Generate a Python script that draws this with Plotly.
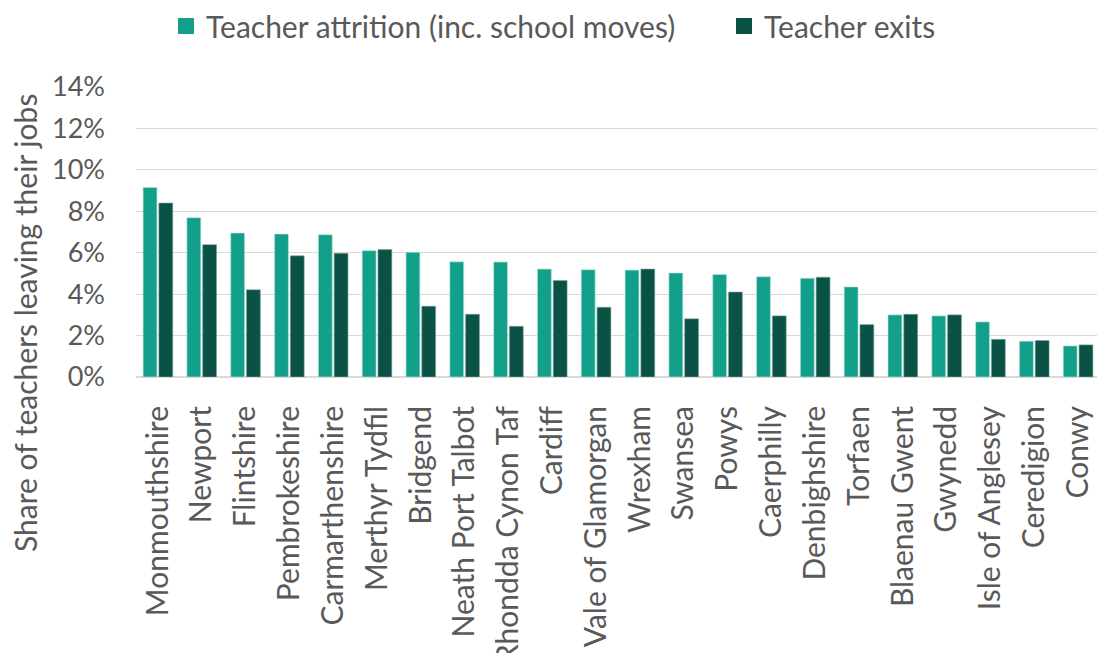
import plotly.graph_objects as go

categories = ["Monmouthshire", "Newport", "Flintshire", "Pembrokeshire", "Carmarthenshire",
              "Merthyr Tydfil", "Bridgend", "Neath Port Talbot", "Rhondda Cynon Taf", "Cardiff",
              "Vale of Glamorgan", "Wrexham", "Swansea", "Powys", "Caerphilly", "Denbighshire",
              "Torfaen", "Blaenau Gwent", "Gwynedd", "Isle of Anglesey", "Ceredigion", "Conwy"]
attrition = [9.15, 7.69, 6.95, 6.90, 6.87, 6.10, 6.02, 5.56, 5.55, 5.21, 5.18, 5.16, 5.02,
             4.95, 4.84, 4.77, 4.35, 3.00, 2.95, 2.66, 1.73, 1.50]
exits = [8.40, 6.39, 4.21, 5.85, 5.97, 6.15, 3.42, 3.03, 2.45, 4.66, 3.37, 5.21, 2.81,
         4.10, 2.95, 4.82, 2.53, 3.03, 3.00, 1.82, 1.76, 1.55]
y_ticks = [0, 2, 4, 6, 8, 10, 12, 14]
y_tick_labels = ["0%", "2%", "4%", "6%", "8%", "10%", "12%", "14%"]
series_names = ["Teacher attrition (inc. school moves)", "Teacher exits"]
series_colors = ["#12A08A", "#0A5246"]

FONT = "Lato"
GREY = "#595959"

# the page places the figure 8px from the top-left corner
W, H = 1097, 645
L, R, T, B = 128, 5, 79, 276
plot_w = W - L - R
plot_h = H - T - B

fig = go.Figure()
fig.add_trace(go.Bar(x=categories, y=attrition, name=series_names[0], showlegend=False,
                     marker=dict(color=series_colors[0], line=dict(color="#BFE6DE", width=0.6))))
fig.add_trace(go.Bar(x=categories, y=exits, name=series_names[1], showlegend=False,
                     marker=dict(color=series_colors[1], line=dict(color="#7FA8A1", width=0.6))))
# legend entries with larger square swatches, one legend per entry for exact placement
for nm, col, lg in zip(series_names, series_colors, ["legend", "legend2"]):
    fig.add_trace(go.Scatter(x=[None], y=[None], mode="markers", name=nm, legend=lg,
                             marker=dict(symbol="square", size=16, color=col)))

leg_common = dict(orientation="h", xanchor="left", yanchor="middle", yref="container",
                  y=1 - 18 / H, font=dict(size=30, color=GREY), itemwidth=30,
                  bgcolor="rgba(0,0,0,0)")
fig.update_layout(
    width=W, height=H,
    margin=dict(l=L, r=R, t=T, b=B, autoexpand=False),
    paper_bgcolor="white", plot_bgcolor="white",
    font=dict(family=FONT, size=30, color=GREY),
    barmode="group", bargap=0.28, bargroupgap=0.12,
    showlegend=True,
    legend=dict(x=(158 - L) / plot_w, **leg_common),
    legend2=dict(x=(716 - L) / plot_w, **leg_common),
    xaxis=dict(type="category", tickangle=-90, showgrid=False, showline=False,
               ticks="", ticklabelstandoff=22, tickfont=dict(size=30, color=GREY),
               range=[-0.5, len(categories) - 0.5], automargin=False),
    yaxis=dict(range=[0, 14], tickvals=y_ticks, ticktext=y_tick_labels,
               showgrid=True, gridcolor="#D9D9D9", gridwidth=1.3,
               zeroline=True, zerolinecolor="#D9D9D9", zerolinewidth=1.5,
               showline=False, ticks="", ticklabelstandoff=30, automargin=False,
               tickfont=dict(size=27, color=GREY)),
    annotations=[dict(text="Share of teachers leaving their jobs", textangle=-90,
                      xref="paper", yref="paper", x=(17 - L) / plot_w, y=(369 - 315) / plot_h,
                      xanchor="center", yanchor="middle", showarrow=False,
                      font=dict(size=30, color=GREY))],
)

fig.write_html("out.html")
